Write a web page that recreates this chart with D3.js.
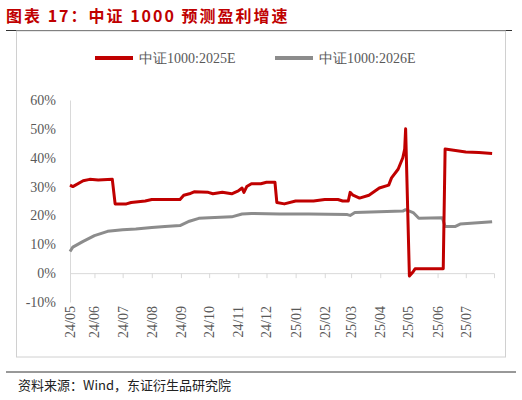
<!DOCTYPE html><html><head><meta charset="utf-8"><script src="https://cdn.jsdelivr.net/npm/d3@7"></script>
<style>body{margin:0;background:#fff}</style></head><body><svg id="c" width="522" height="400"></svg>
<script>
const seriesNames=["中证1000:2025E","中证1000:2026E"];
const yTicks=[-10,0,10,20,30,40,50,60];
const tickLabels=["24/05","24/06","24/07","24/08","24/09","24/10","24/11","24/12","25/01","25/02","25/03","25/04","25/05","25/06","25/07"];
const red=[["2024-05-06",30.5],["2024-05-09",30],["2024-05-20",32],["2024-05-27",32.5],["2024-06-05",32.3],["2024-06-20",32.5],["2024-06-23",24],["2024-07-05",24],["2024-07-10",24.5],["2024-07-25",25],["2024-08-01",25.5],["2024-08-31",25.5],["2024-09-04",27],["2024-09-10",27.5],["2024-09-15",28.2],["2024-09-30",28],["2024-10-05",27.5],["2024-10-15",28],["2024-10-25",27.5],["2024-11-01",28.5],["2024-11-05",29.5],["2024-11-07",28],["2024-11-10",30],["2024-11-15",31],["2024-11-25",31],["2024-12-01",31.5],["2024-12-10",31.5],["2024-12-12",24.5],["2024-12-20",24],["2025-01-01",25],["2025-01-20",25],["2025-02-01",25.5],["2025-02-15",25.5],["2025-02-20",25],["2025-02-26",25],["2025-02-28",28],["2025-03-03",27],["2025-03-10",26],["2025-03-20",27],["2025-03-31",29.5],["2025-04-10",30.5],["2025-04-13",33],["2025-04-20",36],["2025-04-25",40],["2025-04-27",43],["2025-04-28",50],["2025-05-02",-1],["2025-05-06",0.5],["2025-05-08",1.5],["2025-06-07",1.5],["2025-06-09",43],["2025-06-20",42.5],["2025-07-01",42],["2025-07-15",41.8],["2025-07-29",41.5]];
const gray=[["2024-05-06",7.5],["2024-05-09",9],["2024-05-20",11],["2024-06-01",13],["2024-06-15",14.5],["2024-07-01",15],["2024-07-15",15.3],["2024-08-01",15.8],["2024-08-15",16.2],["2024-08-31",16.5],["2024-09-10",18],["2024-09-20",19],["2024-10-01",19.2],["2024-10-25",19.5],["2024-11-05",20.5],["2024-11-15",20.7],["2024-12-15",20.5],["2025-01-15",20.5],["2025-02-25",20.3],["2025-02-28",20],["2025-03-05",21],["2025-04-25",21.5],["2025-04-28",22],["2025-05-06",21],["2025-05-12",19],["2025-06-06",19.2],["2025-06-09",16.2],["2025-06-20",16.2],["2025-06-25",17],["2025-07-29",17.8]];
const colors=["#c00000","#8c8c8c"];
const svg=d3.select("#c");
const p=d3.timeParse("%Y-%m-%d");
const x=d3.scaleTime().domain([p("2024-05-06"),p("2025-07-31")]).range([70,494]);
const y=d3.scaleLinear().domain([-10,60]).range([302,100]);
svg.append("text").attr("x",6).attr("y",22).attr("fill","#c00000").attr("font-family","Noto Sans CJK SC").attr("font-weight","bold").attr("font-size",16).attr("letter-spacing",2).text("图表 17：中证 1000  预测盈利增速");
svg.append("line").attr("x1",6).attr("x2",512).attr("y1",30.5).attr("y2",30.5).attr("stroke","#333");
svg.append("rect").attr("x",16.5).attr("y",31).attr("width",489).attr("height",326).attr("fill","none").attr("stroke","#d0d0d0");
svg.append("line").attr("x1",6).attr("x2",516).attr("y1",372).attr("y2",372).attr("stroke","#333");
svg.append("text").attr("x",18).attr("y",390).attr("font-family","Noto Sans CJK SC").attr("font-size",13).attr("fill","#222").text("资料来源：Wind，东证衍生品研究院");
const ga=svg.append("g").attr("transform","translate(70,0)").call(d3.axisLeft(y).tickValues(yTicks).tickSize(0).tickPadding(14).tickFormat(d=>d+"%"));
ga.select(".domain").attr("stroke","#d9d9d9");
ga.selectAll("text").attr("font-family","Liberation Serif").attr("font-size",14).attr("fill","#595959");
const ticks=d3.timeMonth.range(p("2024-05-01"),p("2025-08-01")).map((d,i)=>i==0?p("2024-05-06"):d);
const gx=svg.append("g").attr("transform",`translate(0,${y(0)})`).call(d3.axisBottom(x).tickValues(ticks).tickSize(5).tickFormat((d,i)=>tickLabels[i]));
gx.select(".domain").attr("stroke","#d9d9d9");
gx.selectAll("line").attr("stroke","#d9d9d9");
gx.selectAll("text").attr("font-family","Liberation Serif").attr("font-size",14).attr("fill","#595959")
 .attr("transform",`translate(0,${y(-10)-y(0)+4}) rotate(-90)`).attr("text-anchor","end").attr("dx",0).attr("dy",0).attr("x",0).attr("y",0).style("dominant-baseline","central");
const line=d3.line().x(d=>x(p(d[0]))).y(d=>y(d[1]));
[gray,red].forEach((s,i)=>svg.append("path").datum(s).attr("d",line).attr("fill","none").attr("stroke",colors[1-i]).attr("stroke-width",3).attr("stroke-linejoin","round"));
const lg=[[95,seriesNames[0],colors[0]],[275,seriesNames[1],colors[1]]];
lg.forEach(([lx,t,c])=>{svg.append("line").attr("x1",lx).attr("x2",lx+38).attr("y1",58).attr("y2",58).attr("stroke",c).attr("stroke-width",4);
svg.append("text").attr("x",lx+44).attr("y",63).attr("font-family","Liberation Serif").attr("font-size",14).attr("fill","#595959").text(t);});
</script></body></html>
